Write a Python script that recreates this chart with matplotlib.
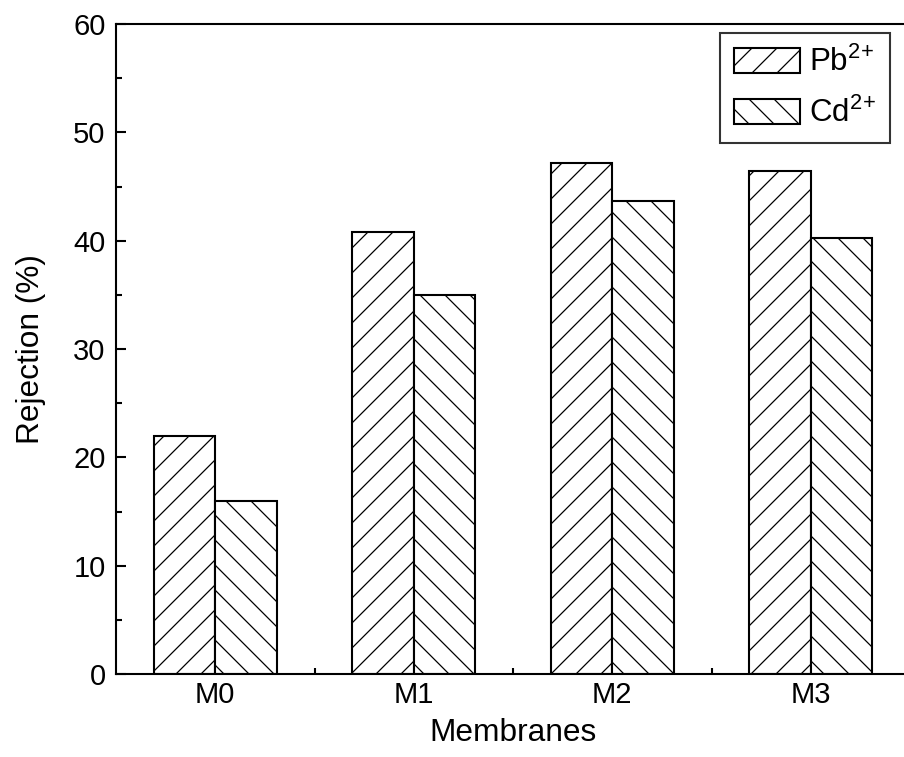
import matplotlib
matplotlib.use("Agg")
import matplotlib.pyplot as plt
import numpy as np

categories = ["M0", "M1", "M2", "M3"]
pb_values = [22.0, 40.8, 47.2, 46.4]
cd_values = [16.0, 35.0, 43.7, 40.2]
series_labels = ["Pb$^{2\\!+}$", "Cd$^{2\\!+}$"]

plt.rcParams['font.family'] = ['Liberation Sans', 'DejaVu Sans']
plt.rcParams['hatch.linewidth'] = 0.6
plt.rcParams['mathtext.fontset'] = 'custom'
plt.rcParams['mathtext.rm'] = 'Liberation Sans'

dpi = 150
fig = plt.figure(figsize=(904 / dpi, 757 / dpi), dpi=dpi)
W, H = 904, 757
left, right, top, bottom = 116, 910, 24, 674
ax = fig.add_axes([left / W, 1 - bottom / H, (right - left) / W, (bottom - top) / H])

x = np.arange(len(categories))
w = 0.31
ax.bar(x - w / 2, pb_values, w, facecolor='white', edgecolor='black', hatch='//', linewidth=1.0, label=series_labels[0])
ax.bar(x + w / 2, cd_values, w, facecolor='white', edgecolor='black', hatch='\\\\', linewidth=1.0, label=series_labels[1])

ax.set_xlim(-0.5, 3.5)
ax.set_ylim(0, 60)
ax.set_xticks(x)
ax.set_xticklabels(categories)
ax.set_xticks(x[:-1] + 0.5, minor=True)
ax.set_yticks(np.arange(0, 61, 10))
ax.set_yticks(np.arange(5, 60, 10), minor=True)
ax.tick_params(axis='both', which='major', direction='in', length=5, width=1, labelsize=14, pad=5)
ax.tick_params(axis='both', which='minor', direction='in', length=3, width=1)
ax.tick_params(axis='x', which='major', length=0, pad=3.5)
for s in ax.spines.values():
    s.set_linewidth(1.0)

ax.set_xlabel("Membranes", fontsize=15.2, labelpad=4)
ax.set_ylabel("Rejection (%)", fontsize=15.2, labelpad=13)

leg = ax.legend(loc='upper right', bbox_to_anchor=((890 - left) / (right - left), 1 - (33 - top) / (bottom - top)),
                fontsize=15, frameon=True, fancybox=False, edgecolor='black',
                handlelength=2.1, handleheight=0.86, handletextpad=0.3, labelspacing=0.62,
                borderpad=0.45, borderaxespad=0)
leg.get_frame().set_linewidth(1.0)

fig.savefig("out.png", dpi=dpi)
